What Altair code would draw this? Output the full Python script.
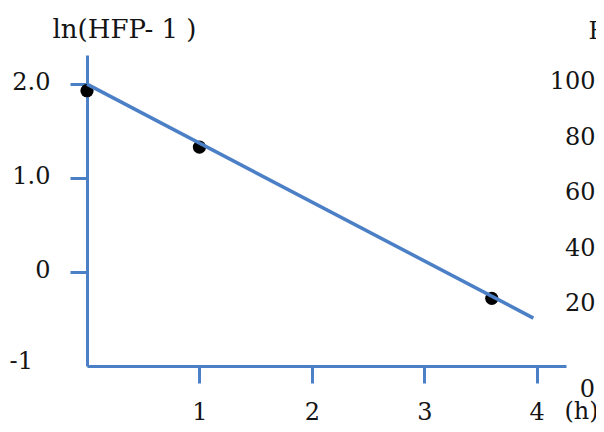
import altair as alt
import pandas as pd

# ---- data ----
time_h = [0.0, 1.0, 3.6]
ln_hfp = [1.93, 1.33, -0.28]
fit_time = [0.0, 3.97]
fit_ln = [2.0, -0.49]
left_ticks = [0, 1, 2]
bottom_ticks = [1, 2, 3, 4]
right_ticks = [20, 40, 60, 80, 100]

BLUE = "#4B7FC6"
INK = "#141414"
FONT = "DejaVu Serif"
FS = 24

pts = pd.DataFrame({"t": time_h, "v": ln_hfp})
fit = pd.DataFrame({"t": fit_time, "v": fit_ln})
right = pd.DataFrame({"r": right_ticks})

xs = alt.Scale(domain=[0, 4.26], nice=False, zero=False)
ys = alt.Scale(domain=[-1, 2.31], nice=False, zero=False)
rs = alt.Scale(domain=[-2.34, 109.7], nice=False, zero=False)

xaxis = alt.Axis(
    values=bottom_ticks, grid=False, domainColor=BLUE, domainWidth=3,
    tickColor=BLUE, tickWidth=3, tickSize=17, format="d",
    labelFont=FONT, labelFontSize=FS, labelColor=INK, labelPadding=17,
    title="(h)", titleX=477, titleY=45, titleAlign="left", titleBaseline="middle",
    titleAngle=0, titleFont=FONT, titleFontSize=FS, titleFontWeight="normal", titleColor=INK,
)
yaxis = alt.Axis(
    values=left_ticks, grid=False, domainColor=BLUE, domainWidth=3,
    tickColor=BLUE, tickWidth=3, tickSize=17,
    labelFont=FONT, labelFontSize=FS, labelColor=INK, labelPadding=20, labelOffset=-2,
    labelExpr="datum.value == 0 ? '0' : format(datum.value, '.1f')",
    title="ln(HFP- 1 )", titleX=-35, titleY=-26, titleAlign="left", titleBaseline="middle",
    titleAngle=0, titleFont=FONT, titleFontSize=26, titleFontWeight="normal", titleColor=INK,
)
raxis = alt.Axis(
    orient="right", values=right_ticks, grid=False, domain=False, ticks=False, tickSize=0,
    labelFont=FONT, labelFontSize=FS, labelColor=INK, labelPadding=29, labelAlign="right",
    title="HFP(%)", titleX=22, titleY=-24, titleAlign="left", titleBaseline="middle",
    titleAngle=0, titleFont=FONT, titleFontSize=FS, titleFontWeight="normal", titleColor=INK,
)

points = alt.Chart(pts).mark_circle(size=175, color="black", opacity=1).encode(
    x=alt.X("t:Q", scale=xs, axis=xaxis),
    y=alt.Y("v:Q", scale=ys, axis=yaxis),
)
line = alt.Chart(fit).mark_line(color=BLUE, strokeWidth=3.5).encode(
    x=alt.X("t:Q", scale=xs),
    y=alt.Y("v:Q", scale=ys),
)
minus_one = alt.Chart(pd.DataFrame({"lab": ["-1"]})).mark_text(
    font=FONT, fontSize=FS, color=INK, align="right", baseline="middle", dy=-4
).encode(
    x=alt.value(-54),
    y=alt.Y(datum=-1, scale=ys),
    text="lab:N",
)
left = alt.layer(points, line, minus_one)

right_dummy = alt.Chart(right).mark_point(opacity=0).encode(
    y=alt.Y("r:Q", scale=rs, axis=raxis),
)
zero_lab = alt.Chart(pd.DataFrame({"lab": ["0"]})).mark_text(
    font=FONT, fontSize=FS, color=INK, align="right", baseline="middle", dy=30
).encode(
    x=alt.value(508),
    y=alt.Y(datum=0, scale=rs),
    text="lab:N",
)
rlayer = alt.layer(right_dummy, zero_lab)

chart = alt.layer(left, rlayer).resolve_scale(y="independent").properties(
    width=479, height=311,
    autosize=alt.AutoSizeParams(type="none"),
    padding={"left": 79, "top": 47, "right": 30, "bottom": 58},
    background="white",
).configure_view(stroke=None)

chart.save("out.html", embed_options={"renderer": "svg", "actions": False})
